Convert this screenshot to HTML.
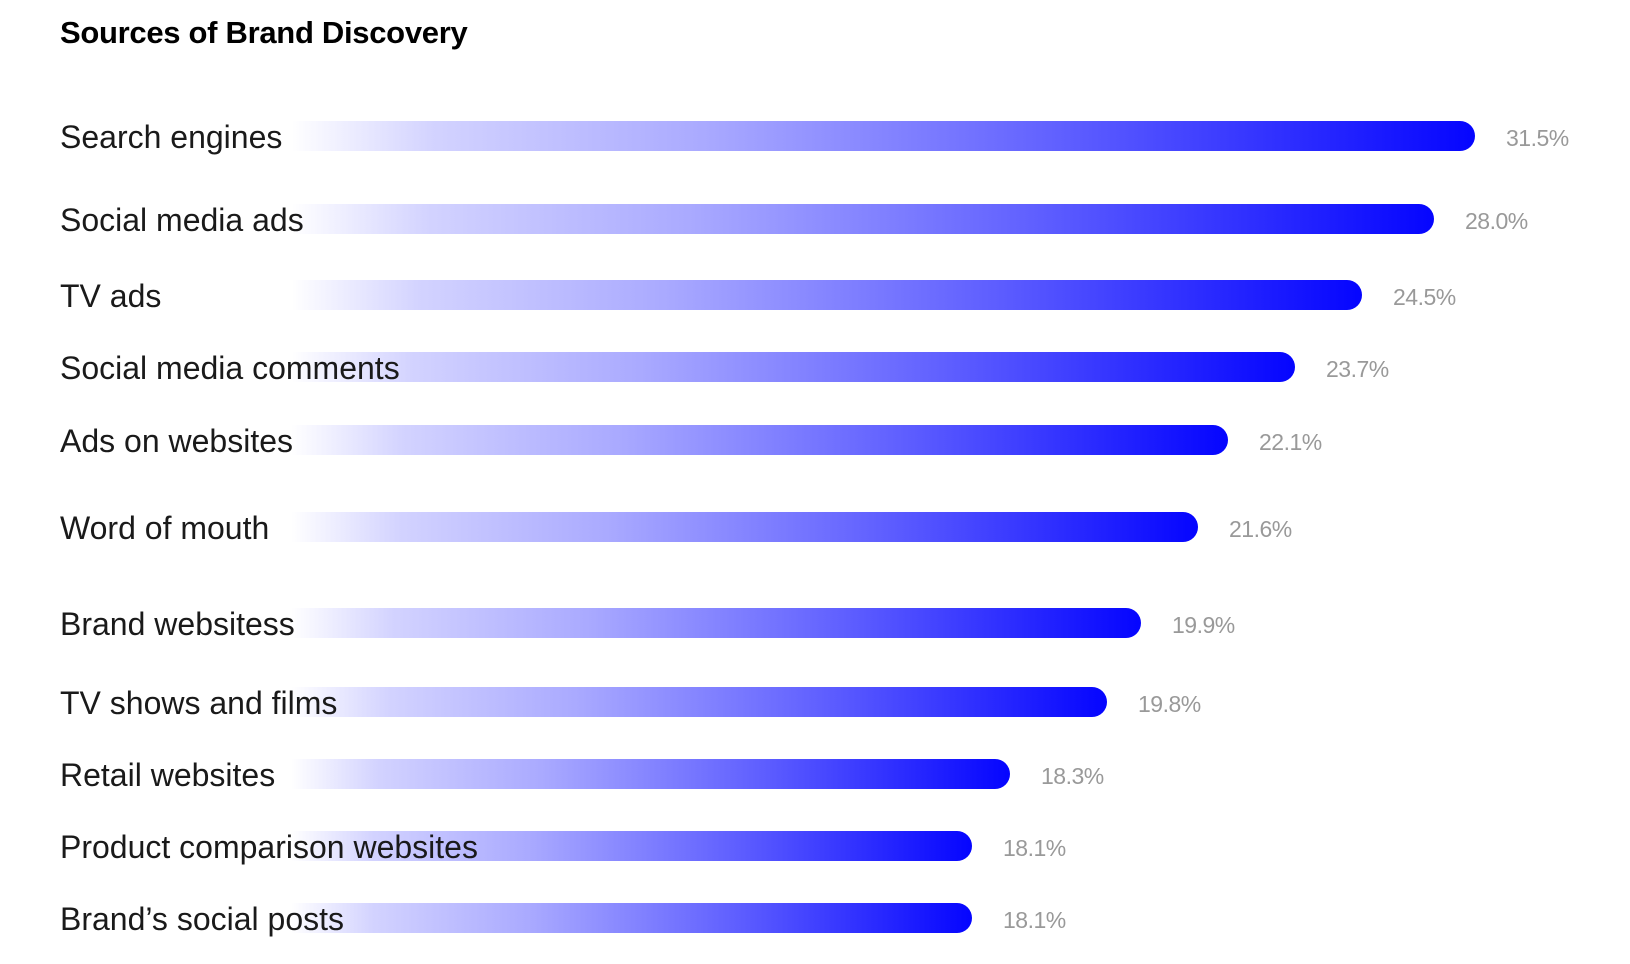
<!DOCTYPE html>
<html><head><meta charset="utf-8"><style>
html,body{margin:0;padding:0;background:#fff;width:1630px;height:964px;overflow:hidden;font-family:"Liberation Sans",sans-serif;}
.title{position:absolute;left:60px;top:15px;font-size:31px;font-weight:bold;color:#000;letter-spacing:-0.3px;}
.bar{position:absolute;left:291px;height:30px;border-radius:0 15px 15px 0;background:linear-gradient(to right,rgba(10,10,255,0),rgba(10,10,255,0.18) 12%,rgba(10,10,255,0.35) 35%,rgba(10,10,255,0.65) 65%,#0505ff 100%);}
.lab{position:absolute;left:60px;font-size:32px;color:#1a1a1a;z-index:2;line-height:30px;}
.val{position:absolute;font-size:23px;color:#999;line-height:30px;letter-spacing:-0.5px;}
</style></head><body>
<div class="title">Sources of Brand Discovery</div>
<div id="c"></div>
<script>
var d=[["Search engines","31.5%",136,1475],["Social media ads","28.0%",219,1434],["TV ads","24.5%",295,1362],["Social media comments","23.7%",367,1295],["Ads on websites","22.1%",440,1228],["Word of mouth","21.6%",527,1198],["Brand websitess","19.9%",623,1141],["TV shows and films","19.8%",702,1107],["Retail websites","18.3%",774,1010],["Product comparison websites","18.1%",846,972],["Brand’s social posts","18.1%",918,972]];
var h="";
d.forEach(function(r){var t=r[2]-15;
h+='<div class="bar" style="top:'+t+'px;width:'+(r[3]-291)+'px"></div>';
h+='<div class="lab" style="top:'+(t+1)+'px">'+r[0]+'</div>';
h+='<div class="val" style="top:'+(t+2)+'px;left:'+(r[3]+31)+'px">'+r[1]+'</div>';});
document.getElementById("c").innerHTML=h;
</script>
</body></html>
